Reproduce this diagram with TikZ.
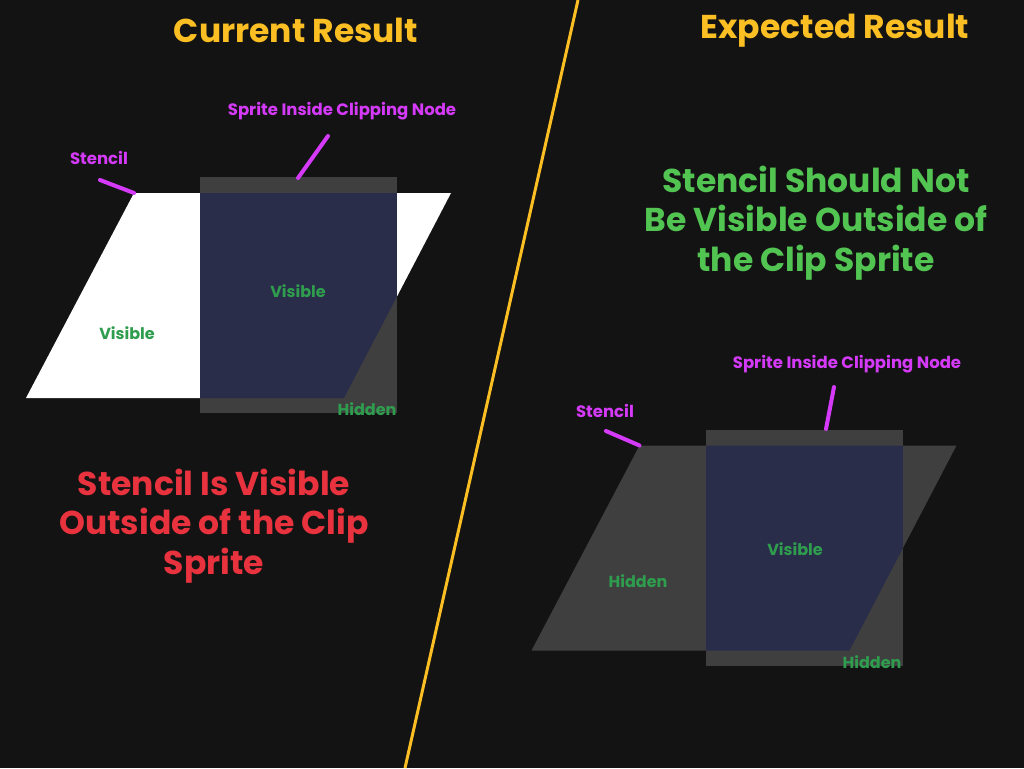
\documentclass[tikz,border=0pt]{standalone}
\usepackage{fontspec}
\setmainfont{Poppins}
\usetikzlibrary{positioning}
\definecolor{bgdark}{HTML}{131313}
\definecolor{titleyellow}{HTML}{FBBF24}
\definecolor{tagpink}{HTML}{D63AF9}
\definecolor{tagsgreen}{HTML}{2F9D4E}
\definecolor{goodgreen}{HTML}{52C452}
\definecolor{badred}{HTML}{E8333F}
\definecolor{spritenavy}{HTML}{2A2D4A}
\definecolor{spritegrey}{HTML}{3F3F3F}
\tikzset{
  title/.style={text=titleyellow, font=\bfseries\fontsize{33}{38}\selectfont},
  tag/.style={text=tagpink, font=\bfseries\fontsize{16.5}{18}\selectfont},
  state/.style={text=tagsgreen, font=\bfseries\fontsize{16}{18}\selectfont},
  verdict/.style={align=center, font=\bfseries\fontsize{33}{39.5}\selectfont},
  leader/.style={draw=tagpink, line width=4pt, line cap=round}
}
\begin{document}
\begin{tikzpicture}[x=1pt,y=-1pt]
  \fill[bgdark] (0,0) rectangle (1024,768);
  \useasboundingbox (0,0) rectangle (1024,768);

  % divider
  \coordinate (divtop) at (578,0);
  \coordinate (divbot) at (405,768);
  \draw[titleyellow, line width=3pt] (divtop) -- (divbot);

  \node[title] (curtitle) at (296,30) {Current Result};
  \node[title] (exptitle) at (835,31) {Expected Result};

  % current result
  \fill[white] (134,193) coordinate (stl) -- (451,193) -- (344,398) -- (26,398) -- cycle;
  \fill[spritegrey] (200,177) rectangle (397,413);
  \begin{scope}
    \clip (134,193) -- (451,193) -- (344,398) -- (26,398) -- cycle;
    \fill[spritenavy] (200,177) rectangle (397,413);
  \end{scope}
  \coordinate (spl) at (298,178);
  \node[tag] (stlabl) at (99,158) {Stencil};
  \node[tag] (splabl) at (342,111) {Sprite Inside Clipping Node};
  \coordinate (stlead) at (100,180);
  \coordinate (splead) at (328,136);
  \draw[leader] (stlead) -- (stl);
  \draw[leader] (splead) -- (spl);
  \node[state] (visl) at (127,333) {Visible};
  \node[state] (visc) at (298,291) {Visible};
  \node[state] (hidr) at (367,409) {Hidden};
  \node[verdict, text=badred] (bad) at (214,526) {Stencil Is Visible\\Outside of the Clip\\Sprite};

  % expected result
  \begin{scope}[shift={(505.5,252.5)}]
    \fill[spritegrey] (134,193) coordinate (str) -- (451,193) -- (344,398) -- (26,398) -- cycle;
    \fill[spritegrey] (200,177) rectangle (397,413);
    \begin{scope}
      \clip (134,193) -- (451,193) -- (344,398) -- (26,398) -- cycle;
      \fill[spritenavy] (200,177) rectangle (397,413);
    \end{scope}
  \end{scope}
  \coordinate (spr) at (826,429);
  \node[tag] (stlabr) at (605,411) {Stencil};
  \node[tag] (splabr) at (847,364) {Sprite Inside Clipping Node};
  \coordinate (stleadr) at (606,431);
  \coordinate (spleadr) at (834,387);
  \draw[leader] (stleadr) -- (str);
  \draw[leader] (spleadr) -- (spr);
  \node[state] (hidl) at (638,581) {Hidden};
  \node[state] (visr) at (795,549) {Visible};
  \node[state] (hidrr) at (872,662) {Hidden};
  \node[verdict, text=goodgreen] (good) at (816,223) {Stencil Should Not\\Be Visible Outside of\\the Clip Sprite};
\end{tikzpicture}
\end{document}
